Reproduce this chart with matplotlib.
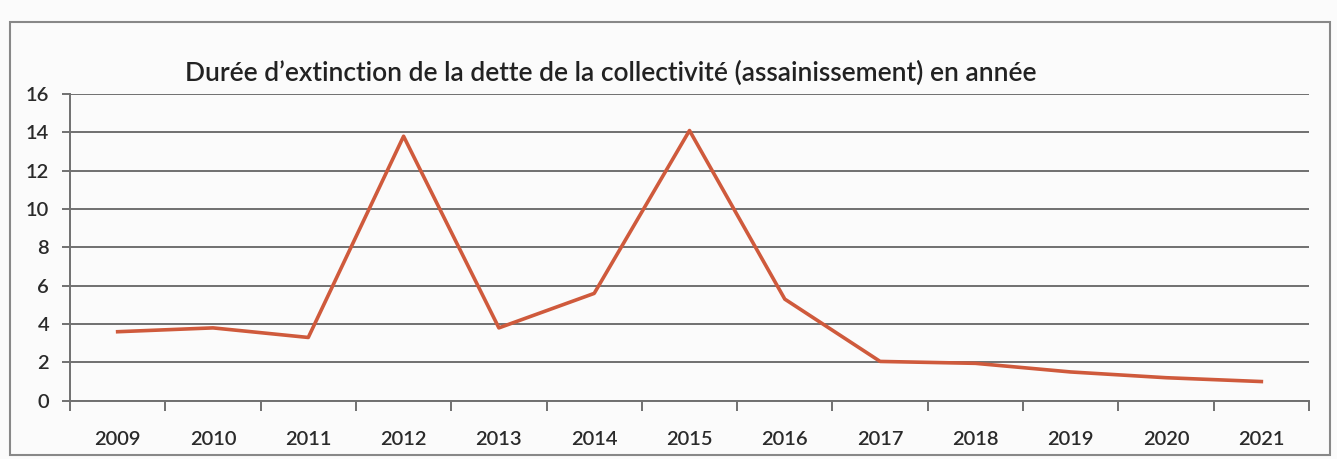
import matplotlib
matplotlib.use('Agg')
import matplotlib.pyplot as plt
from matplotlib.patches import Rectangle

# Durée d'extinction de la dette (assainissement), par année
years = ['2009', '2010', '2011', '2012', '2013', '2014', '2015',
         '2016', '2017', '2018', '2019', '2020', '2021']
duree = [3.6, 3.8, 3.3, 13.8, 3.8, 5.6, 14.1, 5.3, 2.05, 1.95, 1.5, 1.2, 1.0]

plt.rcParams['font.family'] = ['Lato', 'DejaVu Sans']

fig = plt.figure(figsize=(13.37, 4.59), dpi=100)
fig.patch.set_facecolor('#fbfbfb')

# cadre du graphique
fig.patches.append(Rectangle((10 / 1337, 0.008), 1320 / 1337, 0.944,
                             transform=fig.transFigure, fill=False,
                             edgecolor='#888888', linewidth=1.5))

ax = fig.add_axes([70 / 1337, 0.127, 1239 / 1337, 0.668])
ax.set_facecolor('none')

x = list(range(len(years)))
ax.plot(x, duree, color='#cf5a3c', linewidth=2.6)

ax.set_xlim(-0.5, len(years) - 0.5)
ax.set_ylim(0, 16)
ax.set_yticks(range(0, 17, 2))
ax.set_xticks(x)
ax.set_xticklabels(years)
ax.set_xticks([i - 0.5 for i in range(len(years) + 1)], minor=True)

ax.grid(axis='y', color='#707070', linewidth=1.4)
ax.set_axisbelow(True)
for side in ['top', 'right']:
    ax.spines[side].set_visible(False)
for side in ['left', 'bottom']:
    ax.spines[side].set_color('#707070')
    ax.spines[side].set_linewidth(1.4)

ax.tick_params(axis='x', which='major', length=0, pad=22, labelsize=14.5,
               labelcolor='#2a2a2a')
ax.tick_params(axis='x', which='minor', length=7, width=1.4, color='#707070',
               direction='out')
ax.tick_params(axis='y', length=6, width=1.4, color='#707070', pad=9,
               labelsize=14.5, labelcolor='#2a2a2a')
for lab in ax.get_xticklabels() + ax.get_yticklabels():
    lab.set_fontweight('semibold')

fig.text(185 / 1337, 1 - 73 / 459,
         "Durée d\u2019extinction de la dette de la collectivité (assainissement) en année",
         fontsize=19, color='#222222', va='center', ha='left', fontweight='semibold')

fig.savefig('out.png', dpi=100)
